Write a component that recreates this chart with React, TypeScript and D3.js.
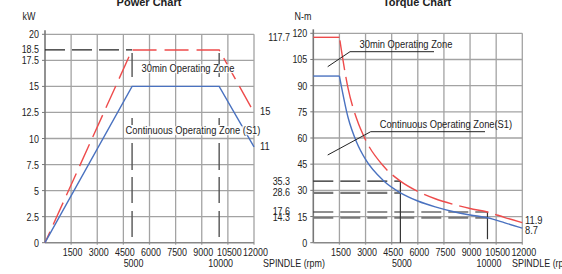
import React, { useEffect, useRef } from 'react';
import * as d3 from 'd3';

// spindle speed ticks (rpm)
const rpmTicks = [1500, 3000, 4500, 6000, 7500, 9000, 10500, 12000];
const rpmSubTicks = [5000, 10000];

// power chart (kW)
const powerTicks = [0, 2.5, 5, 7.5, 10, 12.5, 15, 17.5, 20];
const powerMarks = [18.5];
const powerS1: [number, number][] = [[0, 0], [5000, 15], [10000, 15], [12000, 9.2]];
const power30: [number, number][] = [[0, 0], [5000, 18.5], [10000, 18.5], [12000, 12.5]];
const powerEndLabels = ['15', '11'];

// torque chart (N-m)
const torqueTicks = [0, 15, 30, 45, 60, 75, 90, 105, 120];
const torqueMarks = [117.7, 35.3, 28.6, 17.6, 14.3];
const torqueS1: [number, number][] = [
  [0, 95.5], [1500, 95.5], [2000, 71.6], [2500, 57.3], [3000, 47.7], [4000, 35.8], [5000, 28.6],
  [6000, 23.9], [7000, 20.5], [8000, 17.9], [9000, 15.9], [10000, 14.3], [11000, 11.4], [12000, 8.3],
];
const torque30: [number, number][] = [
  [0, 117.7], [1500, 117.7], [2000, 88.3], [2500, 70.7], [3000, 58.9], [4000, 44.2], [5000, 35.3],
  [6000, 29.4], [7000, 25.2], [8000, 22.1], [9000, 19.6], [10000, 17.6], [11000, 14.4], [12000, 11.5],
];
const torqueEndLabels = ['11.9', '8.7'];

const BLUE = '#4a72c0';
const RED = '#ee4b4b';
const GRID = '#a3a3a3';
const INK = '#222';
const FONT = '"Liberation Sans", Arial, sans-serif';
const SQ = 0.85; // horizontal squeeze to mimic a narrow face

type G = d3.Selection<SVGGElement, unknown, null, undefined>;

// narrow text helper
const txt = (g: G, x: number, y: number, s: string, anchor = 'start', size = 10.5) =>
  g.append('text')
    .attr('transform', `translate(${x},${y}) scale(${SQ},1)`)
    .attr('text-anchor', anchor)
    .attr('font-size', size)
    .attr('fill', INK)
    .text(s);

const App: React.FC = () => {
  const svgRef = useRef<SVGSVGElement>(null);

  useEffect(() => {
    if (!svgRef.current) return;
    const svg = d3.select(svgRef.current);
    svg.selectAll('*').remove();
    svg.attr('font-family', FONT);

    const drawFrame = (
      g: G,
      x: d3.ScaleLinear<number, number>,
      y: d3.ScaleLinear<number, number>,
      yTicks: number[]
    ) => {
      const [x0, x1] = x.range();
      const [y0, y1] = y.range();
      // horizontal grid
      g.selectAll('line.hg').data(yTicks.filter(d => d > 0)).enter().append('line')
        .attr('x1', x0).attr('x2', x1).attr('y1', d => y(d)).attr('y2', d => y(d))
        .attr('stroke', GRID).attr('stroke-width', 1.3);
      // vertical grid
      g.selectAll('line.vg').data(rpmTicks).enter().append('line')
        .attr('x1', d => x(d)).attr('x2', d => x(d)).attr('y1', y0 + 2).attr('y2', y1)
        .attr('stroke', GRID).attr('stroke-width', 1.3);
      // axes
      g.append('line').attr('x1', x0).attr('x2', x0).attr('y1', y0).attr('y2', y1 - 4)
        .attr('stroke', '#777').attr('stroke-width', 1.6);
      g.append('line').attr('x1', x0).attr('x2', x1).attr('y1', y0).attr('y2', y0)
        .attr('stroke', '#888').attr('stroke-width', 1.6);
      g.selectAll('line.yt').data(yTicks).enter().append('line')
        .attr('x1', x0 - 3).attr('x2', x0).attr('y1', d => y(d)).attr('y2', d => y(d))
        .attr('stroke', '#777').attr('stroke-width', 1);
      // tick labels
      yTicks.forEach(d => txt(g, x0 - 6, y(d) + 4, String(d), 'end'));
      rpmTicks.forEach(d => txt(g, x(d) + 1.5, 255.5, String(d), 'middle'));
      rpmSubTicks.forEach(d => txt(g, x(d) + 1.5, 267, String(d), 'middle'));
    };

    const labelBox = (g: G, cx: number, cy: number, s: string) => {
      const box = g.append('g');
      const t = txt(box, cx, cy, s, 'middle', 11);
      const bb = (t.node() as SVGTextElement).getBBox();
      box.insert('rect', 'text')
        .attr('transform', `translate(${cx},${cy}) scale(${SQ},1)`)
        .attr('x', bb.x).attr('y', bb.y + 2).attr('width', bb.width).attr('height', bb.height - 3)
        .attr('fill', 'white').attr('opacity', 0.85);
    };

    // ---------- Power chart ----------
    const px = d3.scaleLinear().domain([0, 12000]).range([45, 254]);
    const py = d3.scaleLinear().domain([0, 20]).range([242.7, 34.3]);
    const pg = svg.append('g');
    drawFrame(pg, px, py, powerTicks);
    powerMarks.forEach(d => txt(pg, 39, py(d) + 3, String(d), 'end'));

    // reference dashed lines
    pg.append('line').attr('x1', px(0)).attr('x2', px(5000))
      .attr('y1', py(18.5)).attr('y2', py(18.5))
      .attr('stroke', INK).attr('stroke-width', 1.2).attr('stroke-dasharray', '20,7');
    rpmSubTicks.forEach(r => {
      pg.append('line').attr('x1', px(r)).attr('x2', px(r)).attr('y1', py(18.2)).attr('y2', py(0.4))
        .attr('stroke', '#555').attr('stroke-width', 1.4)
        .attr('stroke-dasharray', '24,41,7,18,27,7,26,8,26');
    });

    const pLine = d3.line<[number, number]>().x(d => px(d[0])).y(d => py(d[1]));
    pg.append('path').attr('d', pLine(power30)).attr('fill', 'none')
      .attr('stroke', RED).attr('stroke-width', 1.4).attr('stroke-dasharray', '24,8')
      .attr('stroke-dashoffset', 12);
    pg.append('path').attr('d', pLine(powerS1)).attr('fill', 'none')
      .attr('stroke', BLUE).attr('stroke-width', 1.4);

    labelBox(pg, 188, 72, '30min Operating Zone');
    labelBox(pg, 193, 134, 'Continuous Operating Zone (S1)');

    [power30, powerS1].forEach((s, i) =>
      txt(pg, 260, py(s[s.length - 1][1]) + 3, powerEndLabels[i], 'start', 11));

    pg.append('text').attr('x', 149).attr('y', 6).attr('text-anchor', 'middle')
      .attr('font-weight', 'bold').attr('font-size', 11).attr('fill', INK).text('Power Chart');
    txt(pg, 29, 20, 'kW', 'middle');
    txt(pg, 263, 267, 'SPINDLE (rpm)');

    // ---------- Torque chart ----------
    const tx = d3.scaleLinear().domain([0, 12000]).range([313.3, 522.3]);
    const ty = d3.scaleLinear().domain([0, 120]).range([242.7, 33.3]);
    const tg = svg.append('g');
    drawFrame(tg, tx, ty, torqueTicks);
    torqueMarks.forEach(d => txt(tg, 290, ty(d) + 3.5, String(d), 'end'));

    // reference lines at 5000 / 10000
    const refs: [number, number, string, number][] = [
      [5000, 35.3, INK, 1.2], [5000, 28.6, '#777', 2.2],
      [10000, 17.6, INK, 1.2], [10000, 14.3, '#777', 2.2],
    ];
    refs.forEach(([r, v, c, w]) => {
      tg.append('line').attr('x1', tx(0)).attr('x2', tx(r)).attr('y1', ty(v)).attr('y2', ty(v))
        .attr('stroke', c).attr('stroke-width', w).attr('stroke-dasharray', '20,7');
    });
    tg.append('line').attr('x1', tx(5000)).attr('x2', tx(5000)).attr('y1', ty(35.3)).attr('y2', ty(0))
      .attr('stroke', '#333').attr('stroke-width', 1.2);
    tg.append('line').attr('x1', tx(10000)).attr('x2', tx(10000)).attr('y1', ty(17.6)).attr('y2', ty(2))
      .attr('stroke', '#333').attr('stroke-width', 1.2);

    const tLine = d3.line<[number, number]>().x(d => tx(d[0])).y(d => ty(d[1]));
    const tCurve = d3.line<[number, number]>().x(d => tx(d[0])).y(d => ty(d[1]))
      .curve(d3.curveMonotoneX);
    // flat part solid, falling part as curve
    tg.append('path').attr('d', tLine(torque30.slice(0, 2))).attr('fill', 'none')
      .attr('stroke', RED).attr('stroke-width', 1.4);
    tg.append('path').attr('d', tCurve(torque30.slice(1))).attr('fill', 'none')
      .attr('stroke', RED).attr('stroke-width', 1.4).attr('stroke-dasharray', '30,7')
      .attr('stroke-dashoffset', -3);
    tg.append('path').attr('d', tLine(torqueS1.slice(0, 2))).attr('fill', 'none')
      .attr('stroke', BLUE).attr('stroke-width', 1.4);
    tg.append('path').attr('d', tCurve(torqueS1.slice(1))).attr('fill', 'none')
      .attr('stroke', BLUE).attr('stroke-width', 1.4);

    // leader lines
    tg.append('polyline').attr('points', '327.7,66.7 350,51.7 434,51.7')
      .attr('fill', 'none').attr('stroke', INK).attr('stroke-width', 1);
    tg.append('polyline').attr('points', '327.7,155 370.7,131.7 485,131.7')
      .attr('fill', 'none').attr('stroke', INK).attr('stroke-width', 1);
    txt(tg, 406, 48, '30min Operating Zone', 'middle', 11);
    txt(tg, 446, 128, 'Continuous Operating Zone(S1)', 'middle', 11);

    [torque30, torqueS1].forEach((s, i) =>
      txt(tg, 525, ty(s[s.length - 1][1]) + (i === 0 ? 1.5 : 6), torqueEndLabels[i], 'start', 11));

    tg.append('text').attr('x', 417).attr('y', 6).attr('text-anchor', 'middle')
      .attr('font-weight', 'bold').attr('font-size', 11).attr('fill', INK).text('Torque Chart');
    txt(tg, 303, 20, 'N-m', 'middle');
    txt(tg, 512, 267, 'SPINDLE (rpm)');
  }, []);

  return (
    <div style={{ position: 'absolute', left: 0, top: 0, width: 562, height: 274, background: 'white', overflow: 'hidden' }}>
      <svg ref={svgRef} width={562} height={274} style={{ display: 'block' }} />
    </div>
  );
};

export default App;
